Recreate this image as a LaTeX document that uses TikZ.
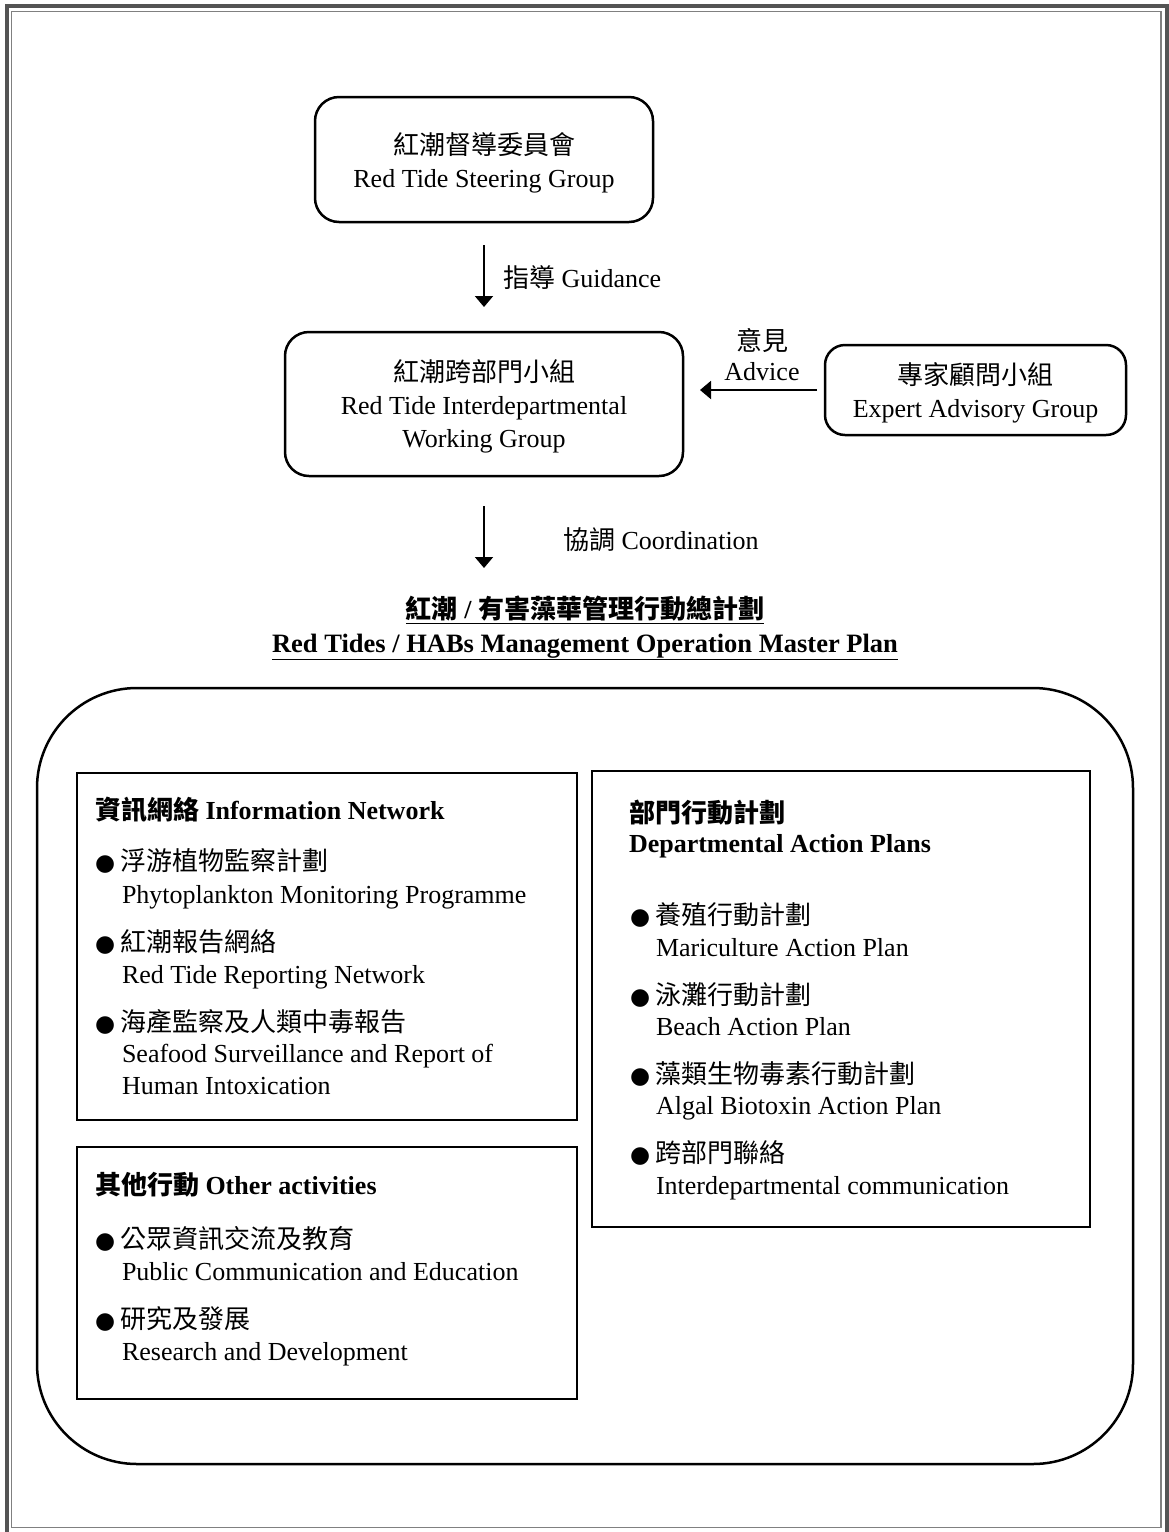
\documentclass[tikz,border=0pt]{standalone}
\usepackage{fontspec}
\setmainfont{Liberation Serif}
\newfontfamily\cjk{Noto Sans CJK TC}
\newfontfamily\dejavu{DejaVu Sans}
\usetikzlibrary{arrows.meta}
\newcommand\bul{\makebox[25pt][l]{\dejavu\fontsize{23}{23}\selectfont ●}}
\begin{document}
\begin{tikzpicture}[x=1pt,y=-1pt,
  every node/.style={font=\fontsize{26}{33}\selectfont, inner sep=0pt, outer sep=0pt},
  rbox/.style={draw, line width=2.5pt, rounded corners=24pt, align=center},
  sbox/.style={draw, line width=2.5pt},
  arr/.style={line width=2pt, -{Triangle[width=18pt,length=11pt]}},
  lbl/.style={anchor=base west},
  lblc/.style={align=center}]
\useasboundingbox (0,0) rectangle (1169,1532);
% page frame
\draw[line width=4pt, black!67] (7,6) rectangle (1166.5,1538);
\draw[line width=1.2pt, black!50] (11.5,11.5) rectangle (1161,1527.5);

% top boxes
\node[rbox, minimum width=338pt, minimum height=125pt] (steer) at (484,159.5)
  {\rule{0pt}{29pt}{\cjk 紅潮督導委員會}\\Red Tide Steering Group};
\node[rbox, minimum width=398pt, minimum height=144pt] (mid) at (484,404)
  {\rule{0pt}{27pt}{\cjk 紅潮跨部門小組}\\Red Tide Interdepartmental\\Working Group};
\node[rbox, rounded corners=20pt, minimum width=301pt, minimum height=90pt] (expert) at (975.5,390)
  {\rule{0pt}{27pt}{\cjk 專家顧問小組}\\Expert Advisory Group};

% connectors
\draw[arr, shorten <=23pt, shorten >=25pt] (steer.south) -- (mid.north);
\node[lbl] (guid) at (503,287) {{\cjk 指導} Guidance};
\draw[arr, shorten <=8pt, shorten >=17pt] (expert.west) -- (expert.west -| mid.east);
\node[lblc, font=\fontsize{26}{30}\selectfont] (adv) at (762,355) {{\cjk 意見}\\Advice};
\coordinate (ctip) at (484,568);
\draw[arr, shorten <=30pt] (mid.south) -- (ctip);
\node[lbl] (coord) at (563,549) {{\cjk 協調} Coordination};

% title
\node[font=\fontsize{26}{30}\selectfont\bfseries] (tcn) at (585,610)
  {\underline{{\cjk 紅潮} / {\cjk 有害藻華管理行動總計劃}}};
\node[font=\fontsize{26.5}{30}\selectfont\bfseries] (ten) at (585,647)
  {\underline{Red Tides / HABs Management Operation Master Plan}};

% container
\node[draw, line width=2.5pt, rounded corners=100pt, minimum width=1096pt, minimum height=776pt] (plan) at (585,1076) {};

% info network box
\node[sbox, minimum width=500pt, minimum height=347pt] (info) at (327,946.5) {};
\node[lbl] (infoh) at (95,819) {{\cjk\bfseries 資訊網絡} \textbf{Information Network}};
\node[lbl] (i1c) at (95,870) {\bul{\cjk 浮游植物監察計劃}};
\node[lbl] (i1e) at (122,903) {Phytoplankton Monitoring Programme};
\node[lbl] (i2c) at (95,951) {\bul{\cjk 紅潮報告網絡}};
\node[lbl] (i2e) at (122,983) {Red Tide Reporting Network};
\node[lbl] (i3c) at (95,1031) {\bul{\cjk 海產監察及人類中毒報告}};
\node[lbl] (i3e) at (122,1062) {Seafood Surveillance and Report of};
\node[lbl] (i3f) at (122,1094) {Human Intoxication};

% other activities box
\node[sbox, minimum width=500pt, minimum height=252pt] (other) at (327,1273) {};
\node[lbl] (oth) at (95,1194) {{\cjk\bfseries 其他行動} \textbf{Other activities}};
\node[lbl] (o1c) at (95,1248) {\bul{\cjk 公眾資訊交流及教育}};
\node[lbl] (o1e) at (122,1280) {Public Communication and Education};
\node[lbl] (o2c) at (95,1328) {\bul{\cjk 研究及發展}};
\node[lbl] (o2e) at (122,1360) {Research and Development};

% departmental box
\node[sbox, minimum width=498pt, minimum height=456pt] (dept) at (841,999) {};
\node[lbl] (dh1) at (629,822) {{\cjk\bfseries 部門行動計劃}};
\node[lbl] (dh2) at (629,852) {\textbf{Departmental Action Plans}};
\node[lbl] (d1c) at (630,924) {\bul{\cjk 養殖行動計劃}};
\node[lbl] (d1e) at (656,956) {Mariculture Action Plan};
\node[lbl] (d2c) at (630,1004) {\bul{\cjk 泳灘行動計劃}};
\node[lbl] (d2e) at (656,1035) {Beach Action Plan};
\node[lbl] (d3c) at (630,1083) {\bul{\cjk 藻類生物毒素行動計劃}};
\node[lbl] (d3e) at (656,1114) {Algal Biotoxin Action Plan};
\node[lbl] (d4c) at (630,1162) {\bul{\cjk 跨部門聯絡}};
\node[lbl] (d4e) at (656,1194) {Interdepartmental communication};
\end{tikzpicture}
\end{document}
